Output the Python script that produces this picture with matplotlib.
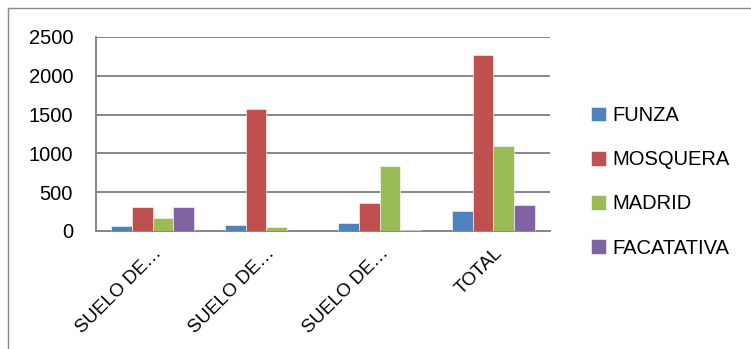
import matplotlib
matplotlib.use('Agg')
import matplotlib.pyplot as plt
from matplotlib.lines import Line2D
import numpy as np

plt.rcParams['font.family'] = ['Liberation Sans', 'DejaVu Sans']

categories = ['SUELO DE…', 'SUELO DE…', 'SUELO DE…', 'TOTAL']
series_names = ['FUNZA', 'MOSQUERA', 'MADRID', 'FACATATIVA']
funza = [64, 73, 103, 261]
mosquera = [308, 1577, 363, 2269]
madrid = [171, 56, 838, 1090]
facatativa = [308, 0, 8, 329]
colors = ['#4F81BD', '#C0504D', '#9BBB59', '#8064A2']
yticks = [0, 500, 1000, 1500, 2000, 2500]

W, H = 751, 349
fig = plt.figure(figsize=(W / 100, H / 100), dpi=100, facecolor='white')
ax = fig.add_axes([96 / W, 1 - 231 / H, 454 / W, 194 / H])

x = np.arange(len(categories))
bw = 1 / 5.5
for i, (name, vals) in enumerate(zip(series_names, [funza, mosquera, madrid, facatativa])):
    ax.bar(x + (i - 1.5) * bw, vals, width=bw, color=colors[i], label=name,
           edgecolor='white', linewidth=0.4, zorder=3)

ax.set_xlim(-0.5, 3.5)
ax.set_ylim(0, 2500)
ax.set_yticks(yticks)
ax.set_yticklabels([str(v) for v in yticks], fontsize=14.5)
ax.set_xticks(x)
ax.set_xticklabels(categories, fontsize=13.5, rotation=45, ha='right',
                   rotation_mode='anchor')
ax.tick_params(axis='y', length=0, pad=16.5)
ax.tick_params(axis='x', length=0, pad=10)
ax.grid(axis='y', color='#868686', linewidth=1.4, zorder=0)
for s in ['top', 'right']:
    ax.spines[s].set_visible(False)
for s in ['left', 'bottom']:
    ax.spines[s].set_color('#868686')
    ax.spines[s].set_linewidth(1.4)

leg = ax.legend(loc='upper left', bbox_to_anchor=(591 / W, 1 - 106 / H),
                bbox_transform=fig.transFigure, frameon=False, fontsize=14.5,
                handlelength=0.75, handleheight=0.75, handletextpad=0.3,
                labelspacing=1.25, borderaxespad=0, borderpad=0)

# outer chart border
fig.add_artist(Line2D([8 / W, 8 / W], [0, 1 - 8 / H], transform=fig.transFigure,
                      color='#8c8c8c', linewidth=1))
fig.add_artist(Line2D([8 / W, 1], [1 - 8 / H, 1 - 8 / H], transform=fig.transFigure,
                      color='#8c8c8c', linewidth=1))

fig.savefig('out.png', dpi=100, facecolor='white')
